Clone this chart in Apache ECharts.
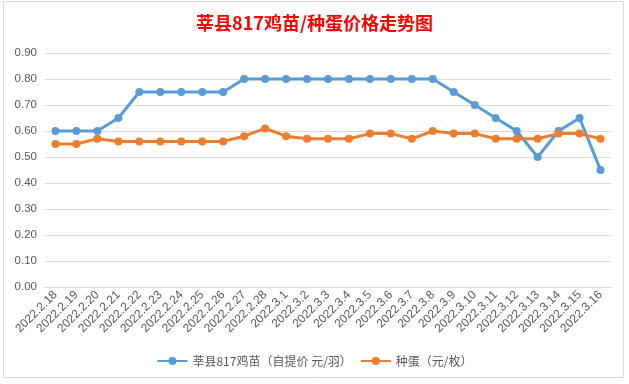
<!DOCTYPE html>
<html><head><meta charset="utf-8">
<script src="https://cdn.jsdelivr.net/npm/echarts@6/dist/echarts.min.js"></script>
<style>html,body{margin:0;padding:0;background:#fff}#c{width:629px;height:384px}</style>
</head><body><div id="c"></div>
<script>
const categories = ['2022.2.18','2022.2.19','2022.2.20','2022.2.21','2022.2.22','2022.2.23','2022.2.24','2022.2.25','2022.2.26','2022.2.27','2022.2.28','2022.3.1','2022.3.2','2022.3.3','2022.3.4','2022.3.5','2022.3.6','2022.3.7','2022.3.8','2022.3.9','2022.3.10','2022.3.11','2022.3.12','2022.3.13','2022.3.14','2022.3.15','2022.3.16'];
const chickValues = [0.60,0.60,0.60,0.65,0.75,0.75,0.75,0.75,0.75,0.80,0.80,0.80,0.80,0.80,0.80,0.80,0.80,0.80,0.80,0.75,0.70,0.65,0.60,0.50,0.60,0.65,0.45];
const eggValues = [0.55,0.55,0.57,0.56,0.56,0.56,0.56,0.56,0.56,0.58,0.61,0.58,0.57,0.57,0.57,0.59,0.59,0.57,0.60,0.59,0.59,0.57,0.57,0.57,0.59,0.59,0.57];
const seriesNames = ['莘县817鸡苗（自提价 元/羽）','种蛋（元/枚）'];
const titleText = '莘县817鸡苗/种蛋价格走势图';

const chart = echarts.init(document.getElementById('c'));
const font = '"Noto Sans CJK SC", "Noto Sans", sans-serif';
chart.setOption({
  backgroundColor: '#fff',
  animation: false,
  graphic: [
    {type:'rect', shape:{x:3.5,y:1.5,width:620,height:376}, style:{fill:'none', stroke:'#d9d9d9', lineWidth:1}, silent:true}
  ],
  title: {
    text: titleText, left: 'center', top: 9,
    textStyle: {color:'#ff0000', fontSize:18, fontWeight:'bold', fontFamily:font}
  },
  legend: {
    bottom: 12, left: 'center', itemWidth: 30, itemHeight: 10, itemGap: 8,
    textStyle: {color:'#595959', fontSize:12, fontFamily:font},
    data: seriesNames
  },
  grid: {left:45, right:18, top:53, bottom:97},
  xAxis: {
    type:'category', data: categories, boundaryGap:true,
    axisLine:{lineStyle:{color:'#d9d9d9'}},
    axisTick:{show:false},
    axisLabel:{rotate:45, color:'#595959', fontSize:12, fontFamily:'"Liberation Sans", Arial, sans-serif', interval:0, margin:6}
  },
  yAxis: {
    type:'value', min:0, max:0.9, interval:0.1,
    axisLine:{show:false}, axisTick:{show:false},
    splitLine:{lineStyle:{color:'#d9d9d9'}},
    axisLabel:{color:'#595959', fontSize:11.5, fontFamily:'"Liberation Sans", Arial, sans-serif', formatter:v=>v.toFixed(2), margin:8}
  },
  series: [
    {name:seriesNames[0], type:'line', data:chickValues, symbol:'circle', symbolSize:8,
     lineStyle:{width:3, color:'#5B9BD5'}, itemStyle:{color:'#5B9BD5'}},
    {name:seriesNames[1], type:'line', data:eggValues, symbol:'circle', symbolSize:8,
     lineStyle:{width:3, color:'#ED7D31'}, itemStyle:{color:'#ED7D31'}}
  ]
});
</script></body></html>
